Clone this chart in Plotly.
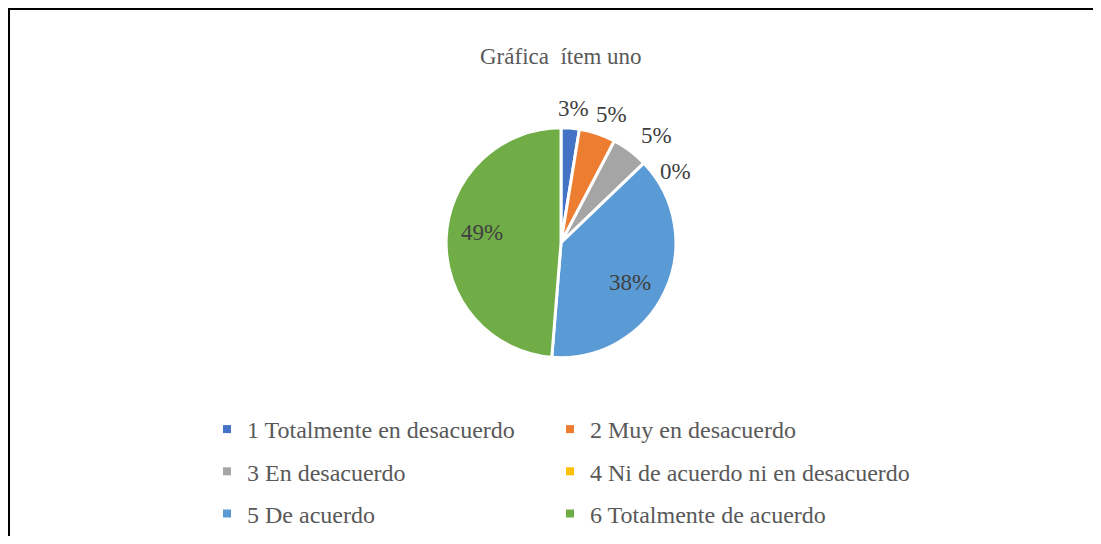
import math
import plotly.graph_objects as go

categories = ["1 Totalmente en desacuerdo", "2 Muy en desacuerdo", "3 En desacuerdo",
              "4 Ni de acuerdo ni en desacuerdo", "5 De acuerdo", "6 Totalmente de acuerdo"]
counts = [1, 2, 2, 0, 15, 19]
colors = ["#4472C4", "#ED7D31", "#A5A5A5", "#FFC000", "#5B9BD5", "#70AD47"]
label_inside = [False, False, False, False, True, True]
title_text = "Gráfica  ítem uno"

FONT = "Liberation Serif"
W, H = 1085, 528          # page body has an 8px margin; keep page from overflowing
ML, MR = 170, 170
PW = W - ML - MR
cx, cy, r = 553, 237, 116  # pie centre / radius in figure pixels


def px(x):
    return (x - ML) / PW


def py(y):
    return 1 - y / H


fig = go.Figure()
fig.add_trace(go.Pie(
    labels=categories,
    values=counts,
    sort=False,
    direction="clockwise",
    rotation=0,
    marker=dict(colors=colors, line=dict(color="white", width=3)),
    textinfo="none",
    domain=dict(x=[px(cx - r), px(cx + r)], y=[py(cy + r), py(cy - r)]),
    showlegend=False,
    hoverinfo="label+percent",
))

# legend entries: two columns (legend / legend2), three rows each
for i, (name, col) in enumerate(zip(categories, colors)):
    fig.add_trace(go.Scatter(
        x=[None], y=[None], mode="markers", name=name,
        marker=dict(symbol="square", size=8, color=col),
        legend="legend" if i % 2 == 0 else "legend2",
        legendgroup=f"g{i}", hoverinfo="skip",
    ))

# data labels, placed from the slice angles
total = sum(counts)
annotations = []
placed = []
cum = 0
lab_font = 23
for c, inside in zip(counts, label_inside):
    mid = (cum + c / 2) / total * 360
    cum += c
    txt = f"{round(100 * c / total)}%"
    if inside:
        t = math.radians(mid + 5)
        x = cx + 80 * math.sin(t)
        y = cy - 80 * math.cos(t)
    else:
        bw, bh, vsep = 31, 22, 36
        t = math.radians(mid)
        x = cx + (r + 27 + bw / 2) * math.sin(t)
        y = cy - (r + 9 + bh / 2) * math.cos(t)
        # push down until clear of labels already placed
        while not all(abs(x - qx) >= bw or abs(y - qy) >= vsep for qx, qy in placed):
            y += 1
        placed.append((x, y))
    annotations.append(dict(x=px(x), y=py(y), xref="paper", yref="paper", text=txt,
                            showarrow=False, xanchor="center", yanchor="middle",
                            font=dict(family=FONT, size=lab_font, color="#404040")))

annotations.append(dict(x=px(cx), y=py(49), xref="paper", yref="paper", text=title_text,
                        showarrow=False, xanchor="center", yanchor="middle",
                        font=dict(family=FONT, size=23, color="#595959")))

leg_common = dict(orientation="v", xanchor="left", yanchor="top", y=py(403),
                  itemwidth=30, tracegroupgap=8, traceorder="grouped",
                  bgcolor="rgba(0,0,0,0)", itemclick=False, itemdoubleclick=False,
                  font=dict(family=FONT, size=24, color="#595959"))

fig.update_layout(
    width=W, height=H,
    margin=dict(l=ML, r=MR, t=0, b=0),
    paper_bgcolor="white",
    plot_bgcolor="white",
    xaxis=dict(visible=False),
    yaxis=dict(visible=False),
    annotations=annotations,
    legend=dict(x=px(199), **leg_common),
    legend2=dict(x=px(542), **leg_common),
    shapes=[
        dict(type="line", xref="paper", yref="paper",
             x0=px(0), x1=px(W + 20), y0=py(1), y1=py(1),
             line=dict(color="black", width=2)),
        dict(type="line", xref="paper", yref="paper",
             x0=px(1), x1=px(1), y0=py(0), y1=py(H + 20),
             line=dict(color="black", width=2)),
    ],
)

fig.write_html("out.html")
